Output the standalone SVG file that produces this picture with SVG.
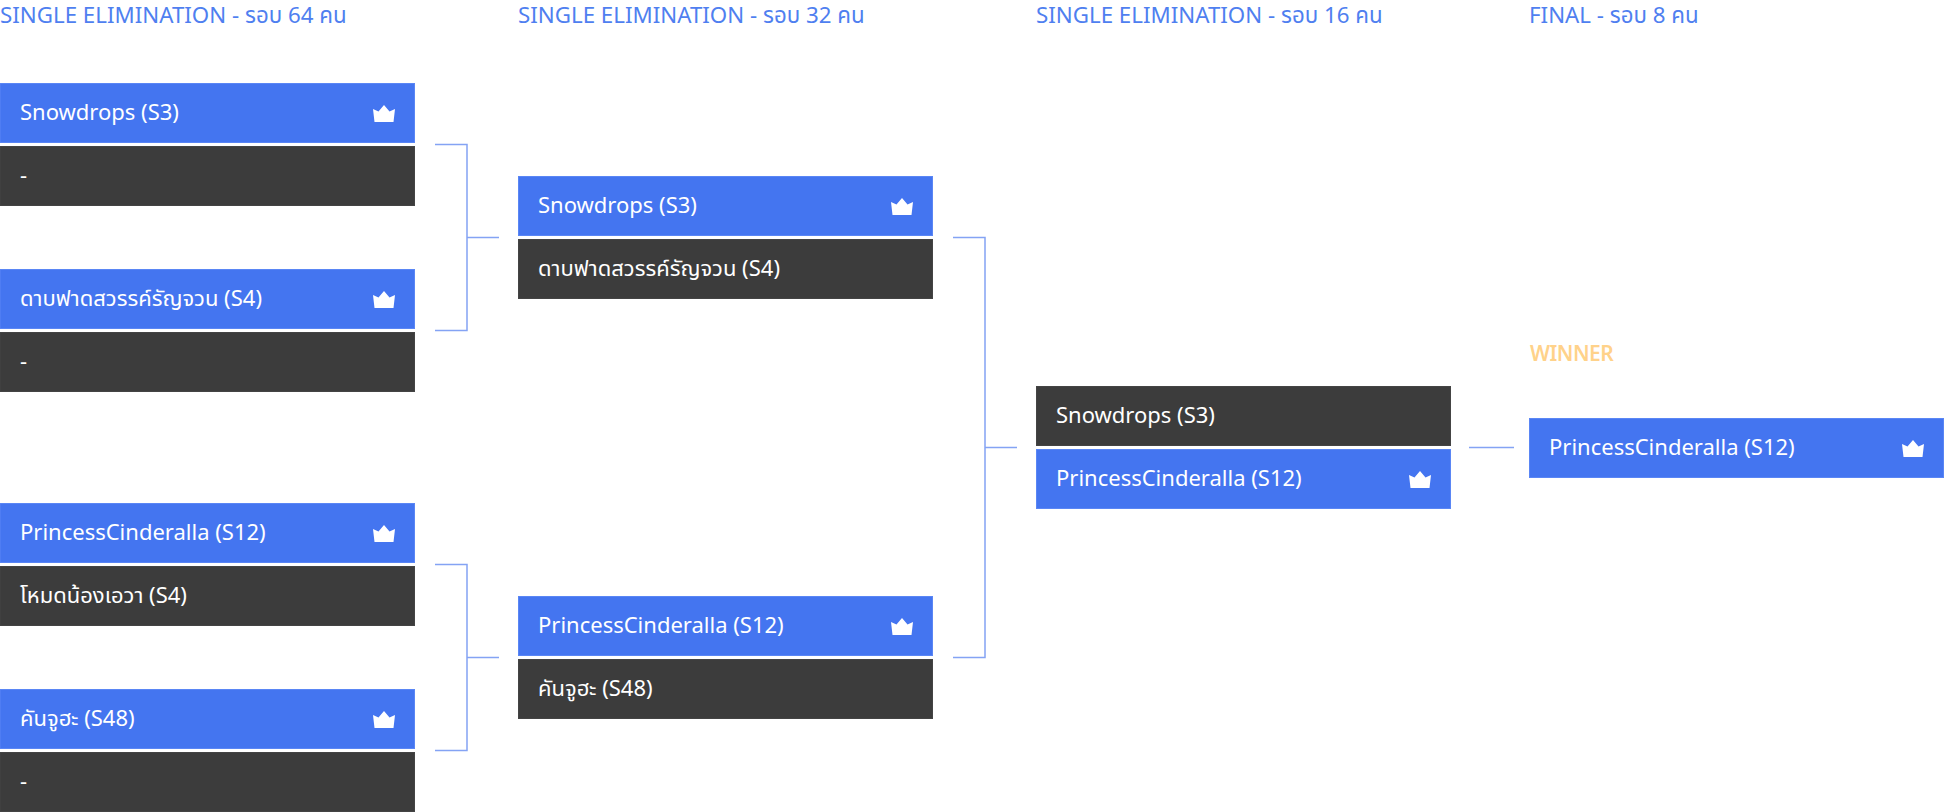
<svg xmlns="http://www.w3.org/2000/svg" width="1944" height="812" viewBox="0 0 1944 812">
<style>
text{font-family:"Noto Sans","Noto Sans Thai","DejaVu Sans",sans-serif}
.h{font-size:22.300px;fill:#4f7ff0}
.w{font-size:21px;fill:#ffd28a;font-weight:600;letter-spacing:-.5px}
.t{font-size:22px;fill:#fff}
.b{fill:#4475f0;stroke:#5a86f5;stroke-width:1}
.d{fill:#3c3c3c;stroke:#444;stroke-width:1}
.c{fill:none;stroke:#84a3f4;stroke-width:1.5}
</style>
<defs>
<path id="crown" d="M0 4L5.500 6.500L11 0L16.500 6.500L22 4L20.500 17H1.500Z" fill="#fff"/>
</defs>
<g id="headers">
<text class="h" x="0" y="23">SINGLE ELIMINATION - รอบ 64 คน</text>
<text class="h" x="518" y="23">SINGLE ELIMINATION - รอบ 32 คน</text>
<text class="h" x="1036" y="23">SINGLE ELIMINATION - รอบ 16 คน</text>
<text class="h" x="1529" y="23">FINAL - รอบ 8 คน</text>
<text class="w" x="1530" y="361">WINNER</text>
</g>
<g id="connectors">
<path class="c" d="M435 144.500H467V330.500H435M467 237.500H499"/>
<path class="c" d="M435 564.500H467V750.500H435M467 657.500H499"/>
<path class="c" d="M953 237.500H985V657.500H953M985 447.500H1017"/>
<path class="c" d="M1469 447.500H1514"/>
</g>
<g id="m1a"><rect class="b" x="0" y="83.500" width="414.500" height="59"/><text class="t" x="20" y="120">Snowdrops (S3)</text><use href="#crown" x="373" y="105"/></g>
<g id="m1b"><rect class="d" x="0" y="146.500" width="414.500" height="59"/><text class="t" x="20" y="183">-</text></g>
<g id="m2a"><rect class="b" x="0" y="269.500" width="414.500" height="59"/><text class="t" x="20" y="306">ดาบฟาดสวรรค์รัญจวน (S4)</text><use href="#crown" x="373" y="291"/></g>
<g id="m2b"><rect class="d" x="0" y="332.500" width="414.500" height="59"/><text class="t" x="20" y="369">-</text></g>
<g id="m3a"><rect class="b" x="0" y="503.500" width="414.500" height="59"/><text class="t" x="20" y="540">PrincessCinderalla (S12)</text><use href="#crown" x="373" y="525"/></g>
<g id="m3b"><rect class="d" x="0" y="566.500" width="414.500" height="59"/><text class="t" x="20" y="603">โหมดน้องเอวา (S4)</text></g>
<g id="m4a"><rect class="b" x="0" y="689.500" width="414.500" height="59"/><text class="t" x="20" y="726">คันจูฮะ (S48)</text><use href="#crown" x="373" y="711"/></g>
<g id="m4b"><rect class="d" x="0" y="752.500" width="414.500" height="59"/><text class="t" x="20" y="789">-</text></g>
<g id="m5a"><rect class="b" x="518.500" y="176.500" width="414" height="59"/><text class="t" x="538" y="213">Snowdrops (S3)</text><use href="#crown" x="891" y="198"/></g>
<g id="m5b"><rect class="d" x="518.500" y="239.500" width="414" height="59"/><text class="t" x="538" y="276">ดาบฟาดสวรรค์รัญจวน (S4)</text></g>
<g id="m6a"><rect class="b" x="518.500" y="596.500" width="414" height="59"/><text class="t" x="538" y="633">PrincessCinderalla (S12)</text><use href="#crown" x="891" y="618"/></g>
<g id="m6b"><rect class="d" x="518.500" y="659.500" width="414" height="59"/><text class="t" x="538" y="696">คันจูฮะ (S48)</text></g>
<g id="m7a"><rect class="d" x="1036.500" y="386.500" width="414" height="59"/><text class="t" x="1056" y="423">Snowdrops (S3)</text></g>
<g id="m7b"><rect class="b" x="1036.500" y="449.500" width="414" height="59"/><text class="t" x="1056" y="486">PrincessCinderalla (S12)</text><use href="#crown" x="1409" y="471"/></g>
<g id="m8"><rect class="b" x="1529.500" y="418.500" width="414" height="59"/><text class="t" x="1549" y="455">PrincessCinderalla (S12)</text><use href="#crown" x="1902" y="440"/></g>
</svg>
